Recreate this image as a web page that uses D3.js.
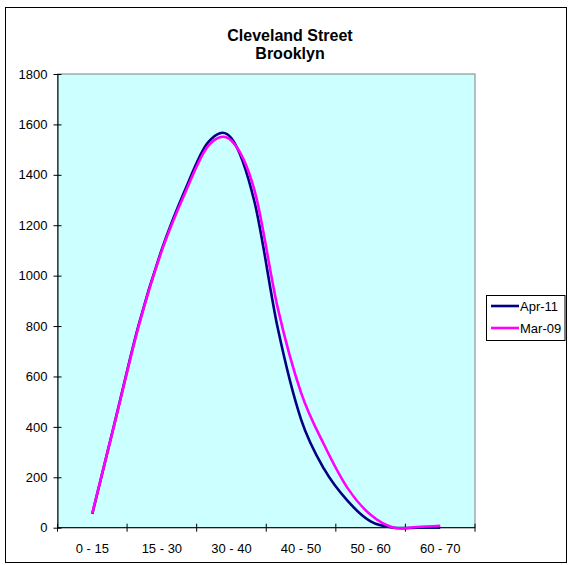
<!DOCTYPE html>
<html>
<head>
<meta charset="utf-8">
<script src="https://cdn.jsdelivr.net/npm/d3@7"></script>
<style>
  html, body { margin: 0; padding: 0; background: #fff; }
  svg { display: block; font-family: "Liberation Sans", Arial, sans-serif; }
</style>
</head>
<body>
<svg id="chart" width="568" height="565"></svg>
<script>
// Speed bands shown on the category axis (each band spans three slots)
const bandLabels = ["0 - 15", "15 - 30", "30 - 40", "40 - 50", "50 - 60", "60 - 70"];
const slotsPerBand = 3;
const firstSlot = 1;            // readings start in the second slot

// Vehicle counts per slot
const apr11 = [55, 430, 805, 1105, 1340, 1530, 1545, 1290, 790, 430, 232, 107, 25, 0, 0, 0];
const mar09 = [57, 428, 800, 1100, 1328, 1515, 1535, 1336, 870, 536, 328, 158, 51, 0, 3, 8];

const seriesNames = ["Apr-11", "Mar-09"];
const seriesColors = ["#000080", "#FF00FF"];
const yTicks = [0, 200, 400, 600, 800, 1000, 1200, 1400, 1600, 1800];
const titleLines = ["Cleveland Street", "Brooklyn"];

const svg = d3.select("#chart");

const plot = { left: 57.5, right: 475, top: 74, bottom: 527.7 };
const nSlots = bandLabels.length * slotsPerBand;

const x = d3.scaleBand()
  .domain(d3.range(nSlots))
  .range([plot.left, plot.right])
  .paddingInner(0).paddingOuter(0);
const y = d3.scaleLinear().domain([0, 1800]).range([plot.bottom, plot.top]);

// outer chart frame
svg.append("rect")
  .attr("x", 5.5).attr("y", 7.5)
  .attr("width", 561).attr("height", 555)
  .attr("fill", "#fff").attr("stroke", "#000").attr("stroke-width", 1);

// plot area
svg.append("rect")
  .attr("x", plot.left).attr("y", plot.top)
  .attr("width", plot.right - plot.left).attr("height", plot.bottom - plot.top)
  .attr("fill", "#CCFFFF").attr("stroke", "#808080").attr("stroke-width", 1);

// title
svg.append("g").selectAll("text").data(titleLines).join("text")
  .attr("x", 290).attr("y", (d, i) => 40.5 + i * 18.5)
  .attr("text-anchor", "middle")
  .attr("font-size", 16).attr("font-weight", "bold").attr("fill", "#000")
  .text(d => d);

// y axis
const yAxis = d3.axisLeft(y).tickValues(yTicks).tickFormat(d3.format("d"))
  .tickSize(0).tickPadding(0);
const gy = svg.append("g").attr("transform", `translate(${plot.left},0)`).call(yAxis);
gy.select(".domain").attr("stroke", "#000");
gy.selectAll(".tick line").remove();
gy.selectAll(".tick").append("line")
  .attr("x1", -4).attr("x2", 4).attr("stroke", "#000");
gy.selectAll(".tick text")
  .attr("x", -10).attr("font-size", 13).attr("fill", "#000")
  .attr("font-family", "Liberation Sans, Arial, sans-serif");

// x axis: ticks at band boundaries, labels centred in each band
const xBand = d3.scaleLinear().domain([0, bandLabels.length]).range([plot.left, plot.right]);
const gx = svg.append("g").attr("transform", `translate(0,${plot.bottom})`);
gx.append("line").attr("x1", plot.left).attr("x2", plot.right).attr("stroke", "#000");
gx.selectAll("line.tick").data(d3.range(bandLabels.length + 1)).join("line")
  .attr("class", "tick")
  .attr("x1", d => xBand(d)).attr("x2", d => xBand(d))
  .attr("y1", -4).attr("y2", 4).attr("stroke", "#000");
gx.selectAll("text").data(bandLabels).join("text")
  .attr("x", (d, i) => xBand(i + 0.5)).attr("y", 25)
  .attr("text-anchor", "middle").attr("font-size", 13).attr("fill", "#000")
  .text(d => d);

// series lines
const line = d3.line()
  .x((d, i) => x(i + firstSlot) + x.bandwidth() / 2)
  .y(d => y(d))
  .curve(d3.curveCardinal.tension(0));

[apr11, mar09].forEach((vals, k) => {
  svg.append("path")
    .datum(vals)
    .attr("d", line)
    .attr("fill", "none")
    .attr("stroke", seriesColors[k])
    .attr("stroke-width", 2.6)
    .attr("stroke-linejoin", "round");
});

// legend
const lg = svg.append("g");
lg.append("rect")
  .attr("x", 486.5).attr("y", 295.5).attr("width", 78.5).attr("height", 45)
  .attr("fill", "#fff").attr("stroke", "#000");
seriesNames.forEach((name, k) => {
  const ly = 306 + k * 22;
  lg.append("line").attr("x1", 491).attr("x2", 519).attr("y1", ly).attr("y2", ly)
    .attr("stroke", seriesColors[k]).attr("stroke-width", 2.6);
  lg.append("text").attr("x", 520).attr("y", ly + 4.5)
    .attr("font-size", 13).attr("fill", "#000").text(name);
});
</script>
</body>
</html>
